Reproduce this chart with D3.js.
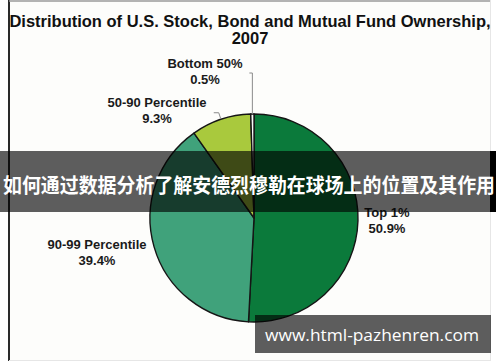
<!DOCTYPE html>
<html>
<head>
<meta charset="utf-8">
<script src="https://cdn.jsdelivr.net/npm/d3@7/dist/d3.min.js"></script>
<style>
  body { margin: 0; background: #fff; }
  svg { display: block; }
</style>
</head>
<body>
<script>
// chart values
var labels = ["Top 1%", "90-99 Percentile", "50-90 Percentile", "Bottom 50%"];
var shares = [50.9, 39.4, 9.3, 0.5];
var colors = ["#0b7a3b", "#40a27b", "#a9c93d", "#f7f8f6"];
var title_lines = ["Distribution of U.S. Stock, Bond and Mutual Fund Ownership,", "2007"];
var banner_text = "如何通过数据分析了解安德烈穆勒在球场上的位置及其作用";
var watermark = "www.html-pazhenren.com";

var W = 500, H = 362;
var cx = 254, cy = 218, radius = 104;

var svg = d3.select("body").append("svg")
    .attr("width", W)
    .attr("height", H);

// picture frame
svg.append("rect").attr("x", 9).attr("y", 1).attr("width", 482).attr("height", 359)
    .attr("fill", "#fdfdfb");
svg.append("line").attr("x1", 9).attr("x2", 9).attr("y1", 0).attr("y2", 361)
    .attr("stroke", "#2a2a2a").attr("stroke-width", 2);
svg.append("line").attr("x1", 9).attr("x2", 491).attr("y1", 1).attr("y2", 1)
    .attr("stroke", "#9a9a9a").attr("stroke-width", 1.5);
svg.append("line").attr("x1", 490.5).attr("x2", 490.5).attr("y1", 0).attr("y2", 361)
    .attr("stroke", "#e6e6e6").attr("stroke-width", 1);
svg.append("line").attr("x1", 9).attr("x2", 491).attr("y1", 360.5).attr("y2", 360.5)
    .attr("stroke", "#e6e6e6").attr("stroke-width", 1);

// title
svg.append("g").selectAll("text")
    .data(title_lines)
    .enter().append("text")
    .attr("x", 250)
    .attr("y", function(d, i) { return 27 + i * 17; })
    .attr("text-anchor", "middle")
    .attr("font-family", "Liberation Sans, Arial, sans-serif")
    .attr("font-weight", "bold")
    .attr("font-size", 16.5)
    .attr("fill", "#111")
    .text(function(d) { return d; });

// pie
var data = labels.map(function(l, i) { return { label: l, value: shares[i], color: colors[i] }; });
var pie = d3.pie().sort(null).value(function(d) { return d.value; });
var arc = d3.arc().innerRadius(0).outerRadius(radius);
var arcs = pie(data);

var g = svg.append("g").attr("transform", "translate(" + cx + "," + cy + ")");
g.selectAll("path")
    .data(arcs)
    .enter().append("path")
    .attr("d", arc)
    .attr("fill", function(d) { return d.data.color; })
    .attr("stroke", "#151515")
    .attr("stroke-width", 1.4)
    .attr("stroke-linejoin", "round");

// label positions (layout)
var label_pos = [
    { x: 387, y: 217 },
    { x: 97, y: 249 },
    { x: 157, y: 107 },
    { x: 205, y: 68 }
];

var edge = function(d, r) {
    var a = (d.startAngle + d.endAngle) / 2;
    return [cx + r * Math.sin(a), cy - r * Math.cos(a)];
};

// leader lines for the small slices
var lead = svg.append("g").attr("fill", "none").attr("stroke", "#8a8a8a").attr("stroke-width", 1);
var p3 = edge(arcs[3], radius);
lead.append("path").attr("d", d3.line()([p3, [p3[0], 73], [p3[0] - 3, 73]]));
var p2 = edge(arcs[2], radius + 1);
var q2 = edge(arcs[2], radius + 7);
lead.append("path").attr("d", d3.line()([p2, q2, [q2[0] - 5, q2[1]]]));

var lab = svg.append("g")
    .attr("font-family", "Liberation Sans, Arial, sans-serif")
    .attr("font-weight", "bold")
    .attr("font-size", 13)
    .attr("fill", "#1a1a1a")
    .attr("text-anchor", "middle");
arcs.forEach(function(d, i) {
    lab.append("text").attr("x", label_pos[i].x).attr("y", label_pos[i].y).text(d.data.label);
    lab.append("text").attr("x", label_pos[i].x).attr("y", label_pos[i].y + 16).text(d.data.value.toFixed(1) + "%");
});

// banner overlay
svg.append("rect").attr("x", 490).attr("y", 151).attr("width", 6).attr("height", 61).attr("fill", "#000");
svg.append("rect").attr("x", 0).attr("y", 151).attr("width", 496).attr("height", 61)
    .attr("fill", "rgba(0,0,0,0.63)");
svg.append("text")
    .attr("x", 3).attr("y", 193)
    .attr("font-family", "Noto Sans CJK SC, sans-serif")
    .attr("font-weight", "bold")
    .attr("font-size", 20.5)
    .attr("textLength", 492)
    .attr("lengthAdjust", "spacingAndGlyphs")
    .attr("fill", "#fff")
    .text(banner_text);

// watermark box
svg.append("rect").attr("x", 255).attr("y", 315).attr("width", 236).attr("height", 38)
    .attr("fill", "rgba(0,0,0,0.63)");
svg.append("text")
    .attr("x", 265).attr("y", 341)
    .attr("font-family", "Open Sans, DejaVu Sans, sans-serif")
    .attr("font-size", 17)
    .attr("textLength", 214)
    .attr("lengthAdjust", "spacingAndGlyphs")
    .attr("fill", "#fff")
    .text(watermark);
</script>
</body>
</html>
